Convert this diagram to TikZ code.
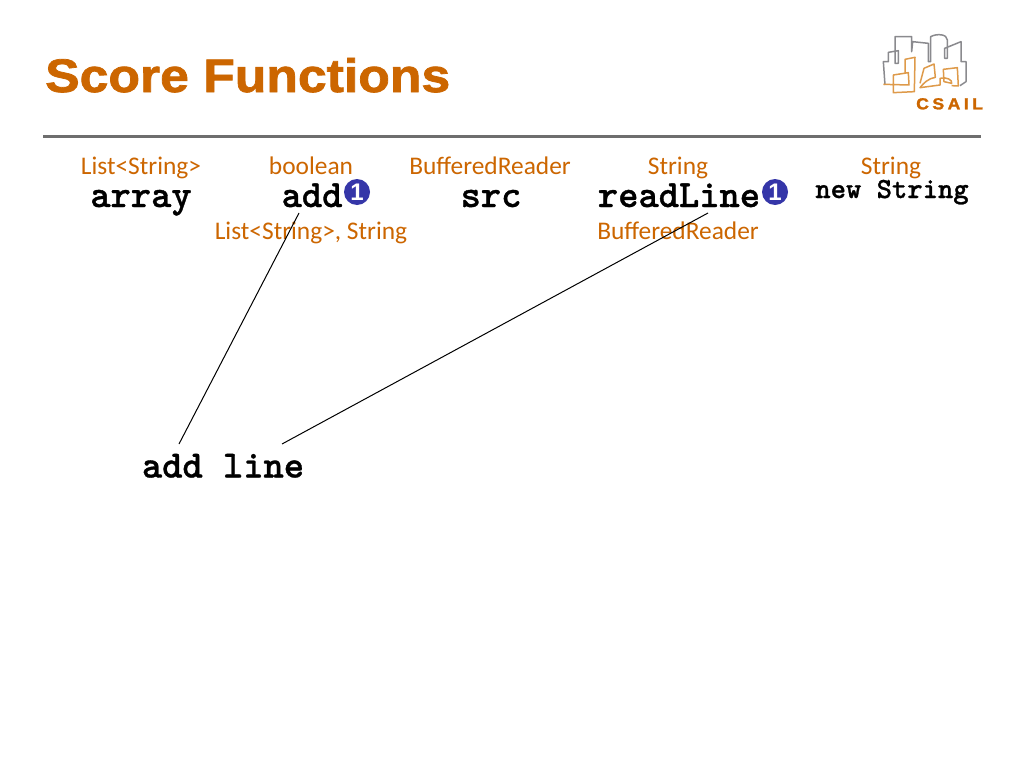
\documentclass[tikz,border=0pt]{standalone}
\usepackage{fontspec}
\setmainfont{Carlito}
\newfontfamily\titlefont[BoldFeatures={FakeBold=1.6,FakeStretch=1.1}]{Liberation Sans}
\newfontfamily\badgefont{Liberation Sans}
\newfontfamily\codefont[Extension=.otf,FakeBold=0.9]{lmmonolt10-bold}
\definecolor{csailorange}{HTML}{CC6600}
\definecolor{rulegray}{HTML}{6E6E6E}
\definecolor{logogray}{HTML}{8A8A8E}
\definecolor{logoorange}{HTML}{DE9A4A}
\definecolor{badgeblue}{HTML}{3536A8}
\tikzset{
    typelabel/.style={anchor=base,text=csailorange,inner sep=0pt,font=\fontsize{25.4}{25.4}\selectfont},
    codelabel/.style={anchor=base,inner sep=0pt,font=\codefont\fontsize{38.6}{38.6}\selectfont},
    badge/.style={circle,fill=badgeblue,text=white,minimum size=26,inner sep=0pt,font=\badgefont\bfseries\fontsize{24}{24}\selectfont},
    logoline/.style={line width=1.5,line join=round}
}
\begin{document}
\begin{tikzpicture}[x=1pt,y=-1pt]
    \useasboundingbox (0,0) rectangle (1024,768);
    \fill[white] (0,0) rectangle (1024,768);

    \node[anchor=base west,inner sep=0pt,text=csailorange,font=\titlefont\bfseries\fontsize{47}{47}\selectfont] (title) at (45,92) {Score Functions};
    \draw[rulegray,line width=3] (43,136) -- (981,136);

    % logo
    \begin{scope}[shift={(860,20)},x=0.3333pt,y=-0.3333pt]
        \draw[logogray,logoline] (75,195) -- (70,125) -- (85,125) -- (85,97) -- (115,92)
            -- (115,130) -- (105,130) -- (105,50) -- (155,50) -- (155,95) -- (158,65)
            -- (205,70) -- (205,125) -- (212,125) -- (212,50) .. controls (230,40) and (262,42) .. (262,60)
            -- (262,115) -- (254,115) -- (254,85) -- (303,65) -- (303,125) -- (318,125)
            -- (318,185) -- (300,197);
        \draw[logoorange,logoline] (135,158) -- (135,118) -- (165,112) -- (163,215)
            -- (100,218) -- (100,165) -- (145,158) -- (147,195) -- (70,193);
        \draw[logoorange,logoline] (180,190) -- (192,145) -- (222,132) -- (226,172)
            .. controls (205,175) and (190,190) .. (180,203) -- (240,195) -- (240,175)
            .. controls (260,170) and (278,180) .. (275,190) -- (252,185) -- (250,148)
            -- (292,143) -- (295,198) -- (275,197);
        \node[anchor=base west,inner sep=0pt,text=csailorange,font=\titlefont\bfseries\fontsize{16}{16}\selectfont] (logotext) at (168,268) {C\kern3.5pt S\kern3.5pt A\kern3.5pt I\kern3.5pt L};
    \end{scope}

    \node[typelabel] (arraytype) at (141,174) {List<String>};
    \node[codelabel] (array) at (141,207) {array};
    \node[typelabel] (addtype) at (311,174) {boolean};
    \node[codelabel] (add) at (312,207) {add};
    \node[badge] (addbadge) at (357,192) {1};
    \node[typelabel] (addargs) at (311,239) {List<String>, String};
    \node[typelabel] (srctype) at (490,174) {BufferedReader};
    \node[codelabel] (src) at (491,207) {src};
    \node[typelabel] (readtype) at (678,174) {String};
    \node[codelabel] (readline) at (679,207) {readLine};
    \node[badge] (readbadge) at (775,192) {1};
    \node[typelabel] (readargs) at (678,239) {BufferedReader};
    \node[typelabel] (newtype) at (891,174) {String};
    \node[codelabel,font=\codefont\fontsize{29.2}{29.2}\selectfont] (newstring) at (892,198) {new String};
    \node[codelabel] (addline) at (223,477.5) {add line};

    \coordinate (addend) at (299,213);
    \coordinate (readend) at (708,213);
    \coordinate (addstart) at (179,444);
    \coordinate (linestart) at (282,444);
    \draw[line width=1] (addend) -- (addstart);
    \draw[line width=1] (readend) -- (linestart);
\end{tikzpicture}
\end{document}
